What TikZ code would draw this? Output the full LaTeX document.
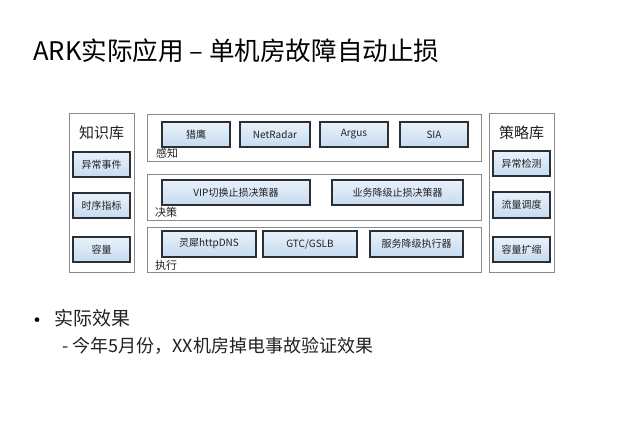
\documentclass[tikz,border=0pt]{standalone}
\usepackage{fontspec}
\setmainfont{Noto Sans CJK SC}
\usetikzlibrary{positioning}
\definecolor{boxline}{HTML}{2A2F36}
\definecolor{secline}{HTML}{8A8A8A}
\definecolor{fillbot}{HTML}{C7DBF0}
\definecolor{filltop}{HTML}{E8F1FA}
\definecolor{txt}{HTML}{222222}
\tikzset{
  inbox/.style={draw=boxline, line width=1.1pt, top color=filltop, bottom color=fillbot, text=txt, font=\fontsize{10}{11}\selectfont, inner sep=0pt},
  secbox/.style={draw=secline, line width=0.8pt},
  colbox/.style={draw=secline, line width=0.9pt},
  seclabel/.style={anchor=west, font=\fontsize{11}{12}\selectfont, text=txt, inner sep=0pt},
  colhead/.style={font=\fontsize{15}{16}\selectfont, text=txt, inner sep=0pt}
}
\newcommand{\ibox}[6]{\node[inbox, minimum width=#3-#1, minimum height=#4-#2] (#5) at ({(#1+#3)/2},{(#2+#4)/2}) {#6};}
\begin{document}
\begin{tikzpicture}[x=1pt,y=-1pt]
\useasboundingbox[fill=white] (0,0) rectangle (640,433);
% title
\node[anchor=west, inner sep=0pt, font=\fontsize{25.6}{28}\selectfont, text=black] (title) at (33,51) {ARK实际应用 – 单机房故障自动止损};
% left column
\draw[colbox] (69,113) rectangle (134,272);
\node[colhead] (kb) at (101.5,133) {知识库};
\ibox{73}{152}{130}{177}{k1}{异常事件}
\ibox{73}{193}{130}{218}{k2}{时序指标}
\ibox{73}{237}{130}{262}{k3}{容量}
% right column
\draw[colbox] (489,113) rectangle (554,272);
\node[colhead] (sb) at (521.5,133) {策略库};
\ibox{493}{151}{550}{176}{s1}{异常检测}
\ibox{493}{192}{550}{218}{s2}{流量调度}
\ibox{493}{237}{550}{262}{s3}{容量扩缩}
% sections
\draw[secbox] (147,114) rectangle (481,161);
\draw[secbox] (147,174) rectangle (481,220);
\draw[secbox] (147,227) rectangle (481,272);
\node[seclabel] (l1) at (156,153) {感知};
\node[seclabel] (l2) at (155,212) {决策};
\node[seclabel] (l3) at (155,265) {执行};
% perception
\ibox{162}{122}{230}{147}{p1}{猎鹰}
\ibox{240}{122}{310}{147}{p2}{NetRadar}
\ibox{320}{122}{388}{147}{p3}{Argus}
\ibox{400}{122}{468}{147}{p4}{SIA}
% decision
\ibox{162}{180}{310}{205}{d1}{VIP切换止损决策器}
\ibox{332}{180}{463}{205}{d2}{业务降级止损决策器}
% execution
\ibox{162}{231}{256}{257}{e1}{灵犀httpDNS}
\ibox{263}{231}{357}{257}{e2}{GTC/GSLB}
\ibox{370}{231}{463}{257}{e3}{服务降级执行器}
% bullets
\node[anchor=center, inner sep=0pt, font=\fontsize{22}{22}\selectfont] (dot) at (38,323) {•};
\node[anchor=west, inner sep=0pt, font=\fontsize{19}{21}\selectfont, text=txt] (b1) at (54,318) {实际效果};
\node[anchor=west, inner sep=0pt, font=\fontsize{18}{20}\selectfont, text=txt] (b2) at (62,346) {- 今年5月份，XX机房掉电事故验证效果};
\end{tikzpicture}
\end{document}
